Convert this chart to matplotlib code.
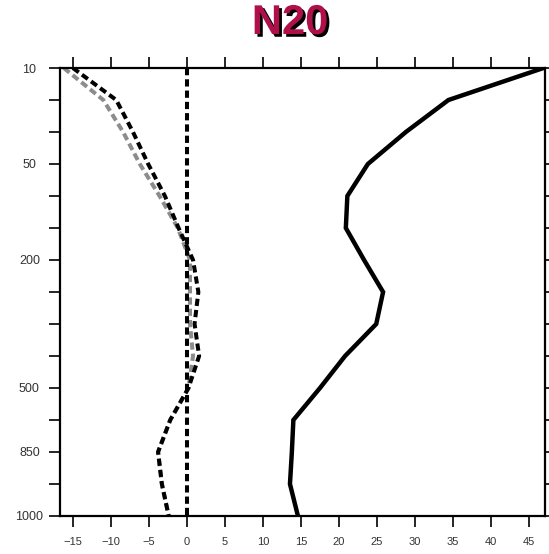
import matplotlib
matplotlib.use('Agg')
import matplotlib.pyplot as plt
import matplotlib.patheffects as pe

# pressure levels (hPa), plotted at equal spacing
levels = [10, 20, 30, 50, 70, 100, 200, 250, 300, 400, 500, 700, 850, 925, 1000]
labelled = [10, 50, 200, 500, 850, 1000]

solid_black = [46.9, 34.4, 28.8, 23.8, 21.1, 20.9, 23.3, 25.8, 24.9, 20.8, 17.5, 14.0, 13.8, 13.55, 14.6]
dash_black = [-15.0, -9.3, -7.1, -5.1, -2.9, -1.1, 0.8, 1.5, 1.0, 1.6, 0.2, -2.2, -3.8, -3.3, -2.4]
dash_gray = [-16.2, -11.0, -8.4, -6.2, -3.6, -1.2, 0.4, 0.4, 0.4, 0.8, 0.2, -2.2, -3.8, -3.3, -2.4]
zero_line = [0.0] * len(levels)

xticks = [-15, -10, -5, 0, 5, 10, 15, 20, 25, 30, 35, 40, 45]


def main() -> int:
    fig = plt.figure(figsize=(5.49, 5.54), dpi=100)
    ax = fig.add_axes([60 / 549, 38 / 554, 485 / 549, 448 / 554])

    ypos = list(range(len(levels)))
    dash = (1.8, 1.0)
    ax.plot(dash_gray, ypos, color='#8c8c8c', linewidth=2.9, dashes=dash)
    ax.plot(dash_black, ypos, color='black', linewidth=2.9, dashes=dash)
    ax.plot(zero_line, ypos, color='black', linewidth=2.9, dashes=dash)
    ax.plot(solid_black, ypos, color='black', linewidth=3.2, solid_joinstyle='miter')

    ax.set_xlim(-16.7, 47.1)
    ax.set_ylim(len(levels) - 1, 0)

    ax.set_xticks(xticks)
    ax.set_xticklabels([f'{t}'.replace('-', '\u2212') for t in xticks],
                       family='Liberation Sans', fontsize=8)
    ax.set_yticks(ypos)
    ax.set_yticklabels([str(l) if l in labelled else '' for l in levels],
                       family='Liberation Sans', fontsize=9)

    ax.tick_params(axis='both', direction='out', length=8, width=1.2,
                   labelcolor='#333333', top=True, right=True)
    ax.tick_params(axis='x', pad=7)
    ax.tick_params(axis='y', pad=14)
    for lab in ax.get_yticklabels():
        lab.set_horizontalalignment('center')

    for sp in ax.spines.values():
        sp.set_linewidth(1.6)

    fig.text(290 / 549, 1 - 23 / 554, 'N20', ha='center', va='center',
             fontsize=30, fontweight='bold', family='Liberation Sans',
             color='#b0104a',
             path_effects=[pe.withSimplePatchShadow(offset=(2, -2),
                                                    shadow_rgbFace='black',
                                                    alpha=1.0)])

    fig.savefig('out.png', dpi=100)
    return 0


if __name__ == '__main__':
    raise SystemExit(main())
